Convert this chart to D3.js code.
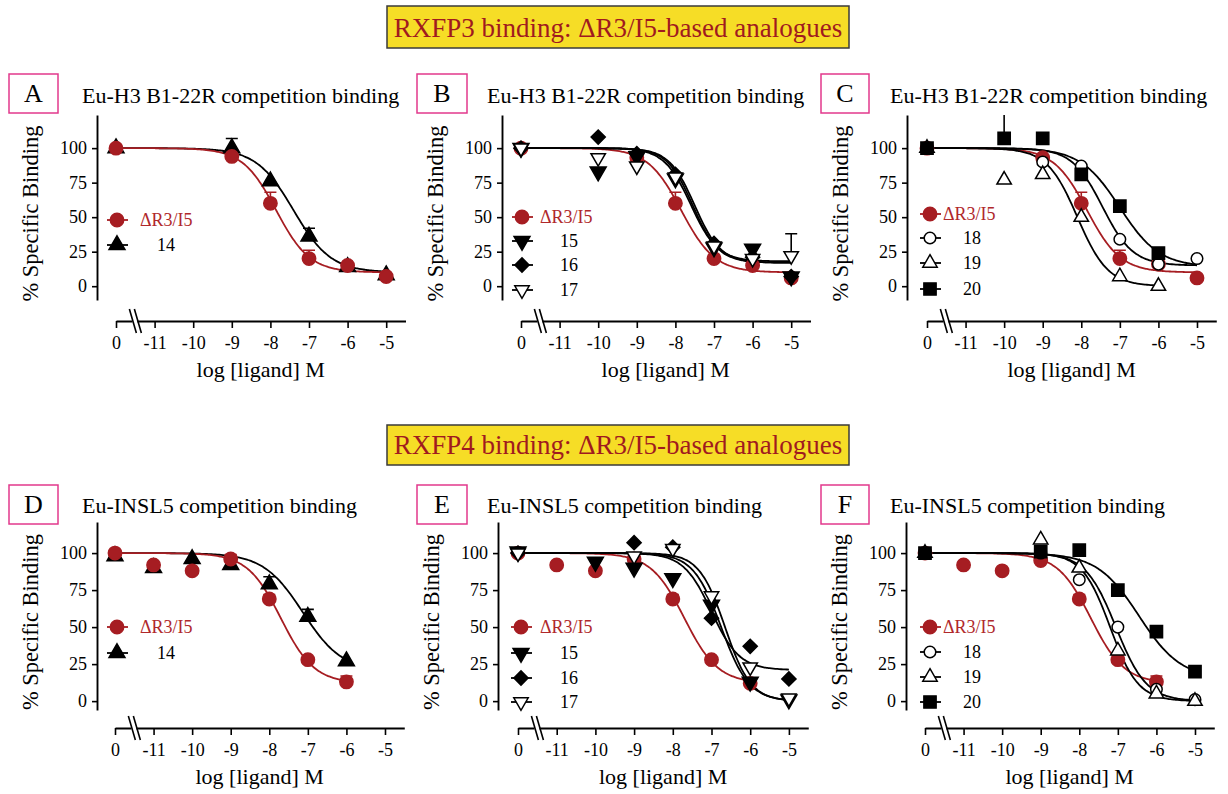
<!DOCTYPE html>
<html>
<head>
<meta charset="utf-8">
<script src="https://cdn.jsdelivr.net/npm/d3@7"></script>
<style>
  body { margin: 0; background: #fff; }
  svg text { font-family: "Liberation Serif", "Times New Roman", serif; }
</style>
</head>
<body>
<svg id="fig" width="1228" height="794"></svg>
<script>
// x values are log10 [ligand]; the "0" (no ligand) point sits at -12, left of the axis break
const xTickValues = [-12, -11, -10, -9, -8, -7, -6, -5];
const xTickLabels = ["0", "-11", "-10", "-9", "-8", "-7", "-6", "-5"];
const yTickValues = [0, 25, 50, 75, 100];

const headerTexts = ["RXFP3 binding: \u0394R3/I5-based analogues", "RXFP4 binding: \u0394R3/I5-based analogues"];
const panelLetters = ["A", "B", "C", "D", "E", "F"];
const panelTitles = [
  "Eu-H3 B1-22R competition binding", "Eu-H3 B1-22R competition binding", "Eu-H3 B1-22R competition binding",
  "Eu-INSL5 competition binding", "Eu-INSL5 competition binding", "Eu-INSL5 competition binding"
];

// points: [log M, % specific binding, +SEM]
// RXFP3 (top row)
const r3A_dR3I5 = [[-12, 100, 0], [-9, 94, 0], [-8, 60, 8], [-7, 20, 6], [-6, 15, 0], [-5, 7, 0]];
const r3A_14    = [[-12, 100, 0], [-9, 100, 7], [-8, 76, 0], [-7, 36, 6], [-6, 14, 3], [-5, 8, 0]];
const r3B_dR3I5 = [[-12, 100, 0], [-9, 93, 0], [-8, 60, 8], [-7, 20, 0], [-6, 15, 0], [-5, 6, 0]];
const r3B_15    = [[-12, 100, 0], [-10, 83, 0], [-9, 94, 0], [-8, 78, 0], [-7, 28, 0], [-6, 27, 0], [-5, 7, 0]];
const r3B_16    = [[-12, 100, 0], [-10, 108, 0], [-9, 96, 0], [-8, 81, 0], [-7, 31, 0], [-6, 21, 0], [-5, 7, 0]];
const r3B_17    = [[-12, 100, 0], [-10, 93, 0], [-9, 87, 0], [-8, 79, 0], [-7, 29, 0], [-6, 20, 0], [-5, 22, 16]];
const r3C_dR3I5 = [[-12, 100, 0], [-9, 93, 0], [-8, 60, 8], [-7, 20, 6], [-6, 16, 0], [-5, 6, 0]];
const r3C_18    = [[-12, 100, 0], [-9, 90, 0], [-8, 87, 0], [-7, 34, 0], [-6, 16, 0], [-5, 20, 0]];
const r3C_19    = [[-12, 100, 0], [-10, 77, 0], [-9, 81, 0], [-8, 50, 0], [-7, 7, 0], [-6, 0, 0]];
const r3C_20    = [[-12, 100, 0], [-10, 107, 20], [-9, 107, 0], [-8, 81, 0], [-7, 58, 0], [-6, 24, 0]];
// RXFP4 (bottom row)
const r4D_dR3I5 = [[-12, 100, 0], [-11, 92, 0], [-10, 88, 0], [-9, 96, 3], [-8, 69, 3], [-7, 28, 0], [-6, 13, 4]];
const r4D_14    = [[-12, 98, 0], [-11, 90, 0], [-10, 96, 0], [-9, 92, 4], [-8, 79, 5], [-7, 57, 5], [-6, 27, 0]];
const r4E_dR3I5 = [[-12, 100, 0], [-11, 92, 0], [-10, 88, 0], [-9, 96, 3], [-8, 69, 3], [-7, 28, 0], [-6, 12, 0]];
const r4E_15    = [[-12, 101, 0], [-10, 94, 0], [-9, 90, 0], [-8, 83, 0], [-7, 65, 0], [-6, 13, 0], [-5, 1, 0]];
const r4E_16    = [[-12, 100, 0], [-9, 107, 0], [-8, 104, 0], [-7, 56, 0], [-6, 37, 0], [-5, 15, 0]];
const r4E_17    = [[-12, 100, 0], [-9, 98, 0], [-8, 103, 0], [-7, 71, 0], [-6, 23, 0], [-5, 2, 0]];
const r4F_dR3I5 = [[-12, 100, 0], [-11, 92, 0], [-10, 88, 0], [-9, 95, 0], [-8, 69, 3], [-7, 28, 0], [-6, 13, 4]];
const r4F_18    = [[-12, 100, 0], [-9, 100, 0], [-8, 82, 0], [-7, 50, 0], [-6, 8, 0], [-5, 1, 0]];
const r4F_19    = [[-12, 100, 0], [-9, 109, 0], [-8, 90, 0], [-7, 34, 0], [-6, 5, 0], [-5, 0, 0]];
const r4F_20    = [[-12, 100, 0], [-9, 101, 0], [-8, 102, 0], [-7, 75, 0], [-6, 47, 3], [-5, 20, 0]];

// fitted one-site curves: [bottom, logIC50, hill slope, last log M drawn] (top = 100)
const fitA_dR3I5 = [10, -7.85, 1.0, -5];
const fitA_14    = [10, -7.4, 0.9, -5];
const fitB_dR3I5 = [10, -7.85, 1.0, -5];
const fitB_15    = [17, -7.55, 1.3, -5];
const fitB_16    = [17, -7.5, 1.3, -5];
const fitB_17    = [18, -7.6, 1.25, -5];
const fitC_dR3I5 = [10, -7.85, 1.0, -5];
const fitC_18    = [15, -7.45, 1.1, -5];
const fitC_19    = [0, -8.1, 1.1, -6];
const fitC_20    = [14, -7.0, 0.85, -5];
const fitD_dR3I5 = [12, -7.7, 1.0, -6];
const fitD_14    = [20, -7.13, 0.85, -6];
const fitE_dR3I5 = [12, -7.7, 1.0, -6];
const fitE_15    = [0, -6.75, 1.2, -5];
const fitE_16    = [21, -7.0, 1.2, -5];
const fitE_17    = [0, -6.65, 1.3, -5];
const fitF_dR3I5 = [12, -7.7, 1.0, -6];
const fitF_18    = [0, -7.05, 1.1, -5];
const fitF_19    = [0, -7.2, 1.2, -5];
const fitF_20    = [15, -6.45, 0.8, -5];

const red = "#a61d22";

const seriesStyle = {
  "\u0394R3/I5": { sym: "circle", fill: red, stroke: red, size: 140 },
  "14": { sym: "triUp", fill: "#000", stroke: "#000", size: 110 },
  "15": { sym: "triDown", fill: "#000", stroke: "#000", size: 110 },
  "16": { sym: "diamond", fill: "#000", stroke: "#000", size: 100 },
  "17": { sym: "triDown", fill: "#fff", stroke: "#000", size: 90 },
  "18": { sym: "circle", fill: "#fff", stroke: "#000", size: 105 },
  "19": { sym: "triUp", fill: "#fff", stroke: "#000", size: 90 },
  "20": { sym: "square", fill: "#000", stroke: "#000", size: 150 }
};

// layout per panel (pixel positions)
const panels = [
  { row: 0, x0: 116, ux: 38.6, yAxisX: 97, boxX: 9, boxW: 49, titleX: 82, legX: 117, labX: 140, numX: 157, legY: [220, 245],
    series: [["\u0394R3/I5", r3A_dR3I5, fitA_dR3I5], ["14", r3A_14, fitA_14]], redOnTop: true },
  { row: 0, x0: 521, ux: 38.6, yAxisX: 502, boxX: 417, boxW: 50, titleX: 487, legX: 522, labX: 540, numX: 560, legY: [217, 241, 265, 290],
    series: [["\u0394R3/I5", r3B_dR3I5, fitB_dR3I5], ["15", r3B_15, fitB_15], ["16", r3B_16, fitB_16], ["17", r3B_17, fitB_17]] },
  { row: 0, x0: 927, ux: 38.57, yAxisX: 907, boxX: 821, boxW: 48, titleX: 890, legX: 930, labX: 943, numX: 963, legY: [214, 238, 263, 289],
    series: [["\u0394R3/I5", r3C_dR3I5, fitC_dR3I5], ["18", r3C_18, fitC_18], ["19", r3C_19, fitC_19], ["20", r3C_20, fitC_20]] },
  { row: 1, x0: 115, ux: 38.57, yAxisX: 97, boxX: 9, boxW: 49, titleX: 82, legX: 117, labX: 140, numX: 157, legY: [627, 653],
    series: [["\u0394R3/I5", r4D_dR3I5, fitD_dR3I5], ["14", r4D_14, fitD_14]], redOnTop: true },
  { row: 1, x0: 518, ux: 38.7, yAxisX: 498, boxX: 417, boxW: 50, titleX: 487, legX: 521, labX: 540, numX: 560, legY: [627, 653, 678, 702],
    series: [["\u0394R3/I5", r4E_dR3I5, fitE_dR3I5], ["15", r4E_15, fitE_15], ["16", r4E_16, fitE_16], ["17", r4E_17, fitE_17]] },
  { row: 1, x0: 925, ux: 38.57, yAxisX: 906, boxX: 821, boxW: 48, titleX: 890, legX: 930, labX: 943, numX: 963, legY: [627, 652, 677, 702],
    series: [["\u0394R3/I5", r4F_dR3I5, fitF_dR3I5], ["18", r4F_18, fitF_18], ["19", r4F_19, fitF_19], ["20", r4F_20, fitF_20]] }
];

// row geometry: y-axis extent, value domain, x-axis position, title/box positions
const rows = [
  { yDomain: [-10, 124], yRange: [300, 115], xAxisY: 321, boxY: 74, titleY: 103, headerY: 6, headerH: 42, headerBase: 37 },
  { yDomain: [-6, 121], yRange: [710, 522], xAxisY: 728, boxY: 485, titleY: 513, headerY: 425, headerH: 40, headerBase: 454 }
];

const svg = d3.select("#fig");

// header boxes
rows.forEach((r, i) => {
  svg.append("rect")
    .attr("x", 387).attr("y", r.headerY)
    .attr("width", 462).attr("height", r.headerH)
    .attr("fill", "#f6dd26").attr("stroke", "#3a3a3a").attr("stroke-width", 1.5);
  svg.append("text")
    .attr("x", 618).attr("y", r.headerBase)
    .attr("text-anchor", "middle")
    .attr("font-size", 27).attr("fill", "#a01a1f")
    .text(headerTexts[i]);
});

function symbolPath(style) {
  if (style.sym === "circle") return d3.symbol(d3.symbolCircle, style.size)();
  if (style.sym === "square") return d3.symbol(d3.symbolSquare, style.size)();
  if (style.sym === "diamond") return d3.symbol(d3.symbolSquare, style.size)();
  return d3.symbol(d3.symbolTriangle, style.size)();
}
function symbolRotate(style) {
  if (style.sym === "triDown") return 180;
  if (style.sym === "diamond") return 45;
  return 0;
}

function fitValue(fit, x) {
  const [bottom, logIC50, hill] = fit;
  return bottom + (100 - bottom) / (1 + Math.pow(10, hill * (x - logIC50)));
}

panels.forEach((p, pi) => {
  const r = rows[p.row];
  const g = svg.append("g");

  const x = d3.scaleLinear().domain([-12, -4.5]).range([p.x0, p.x0 + 7.5 * p.ux]);
  const y = d3.scaleLinear().domain(r.yDomain).range(r.yRange);

  // letter box + title
  g.append("rect")
    .attr("x", p.boxX).attr("y", r.boxY)
    .attr("width", p.boxW).attr("height", 39)
    .attr("fill", "none").attr("stroke", "#e2388c").attr("stroke-width", 1.5);
  g.append("text")
    .attr("x", p.boxX + p.boxW / 2).attr("y", r.boxY + 28)
    .attr("text-anchor", "middle").attr("font-size", 26)
    .text(panelLetters[pi]);
  g.append("text")
    .attr("x", p.titleX).attr("y", r.titleY)
    .attr("font-size", 22)
    .text(panelTitles[pi]);

  // y axis
  const yAxis = d3.axisLeft(y).tickValues(yTickValues).tickSize(5).tickSizeOuter(0).tickPadding(5);
  const ya = g.append("g").attr("transform", `translate(${p.yAxisX},0)`).call(yAxis);
  ya.select(".domain").attr("stroke-width", 1.9);
  ya.selectAll(".tick line").attr("stroke-width", 1.6);
  ya.selectAll(".tick text").attr("font-size", 18).attr("fill", "#000");

  // x axis
  const xAxis = d3.axisBottom(x).tickValues(xTickValues)
    .tickFormat((d, i) => xTickLabels[i]).tickSize(7).tickSizeOuter(0).tickPadding(8);
  const xa = g.append("g").attr("transform", `translate(0,${r.xAxisY})`).call(xAxis);
  xa.select(".domain").attr("stroke-width", 1.9);
  xa.selectAll(".tick line").attr("stroke-width", 1.6);
  xa.selectAll(".tick text").attr("font-size", 18).attr("fill", "#000");

  // axis break between 0 and -11
  const bx = x(-11.55);
  g.append("rect").attr("x", bx - 1).attr("y", r.xAxisY - 2).attr("width", 5).attr("height", 4).attr("fill", "#fff");
  [0, 5].forEach(off => {
    g.append("line")
      .attr("x1", bx - 4 + off).attr("y1", r.xAxisY - 12)
      .attr("x2", bx + 3 + off).attr("y2", r.xAxisY + 12)
      .attr("stroke", "#000").attr("stroke-width", 1.6);
  });

  // axis titles
  g.append("text")
    .attr("x", (x(-12) + x(-4.5)) / 2).attr("y", r.xAxisY + 56)
    .attr("text-anchor", "middle").attr("font-size", 22)
    .text("log [ligand] M");
  const yMid = (r.yRange[0] + r.yRange[1]) / 2 + 6;
  g.append("text")
    .attr("transform", `translate(${p.yAxisX - 59},${yMid}) rotate(-90)`)
    .attr("text-anchor", "middle").attr("font-size", 22.5)
    .text("% Specific Binding");

  // plot clip so long error bars stop at the axis top
  const clipId = "clip" + pi;
  svg.append("clipPath").attr("id", clipId).append("rect")
    .attr("x", p.yAxisX).attr("y", r.yRange[1])
    .attr("width", x(-4.5) - p.yAxisX).attr("height", r.yRange[0] - r.yRange[1]);
  const plot = g.append("g").attr("clip-path", `url(#${clipId})`);

  let order = p.series.slice();
  if (p.redOnTop) order = order.slice(1).concat([order[0]]);

  const line = d3.line().x(d => x(d[0])).y(d => y(d[1])).curve(d3.curveMonotoneX);

  order.forEach(([name, pts, fit]) => {
    const st = seriesStyle[name];
    const col = name === "\u0394R3/I5" ? red : "#000";
    const curvePts = d3.range(-12, fit[3] + 0.001, 0.05).map(v => [v, fitValue(fit, v)]);
    plot.append("path")
      .attr("d", line(curvePts))
      .attr("fill", "none").attr("stroke", col).attr("stroke-width", 1.8);

    // error bars (upper only)
    pts.filter(d => d[2] > 0).forEach(d => {
      plot.append("line")
        .attr("x1", x(d[0])).attr("x2", x(d[0]))
        .attr("y1", y(d[1])).attr("y2", y(d[1] + d[2]))
        .attr("stroke", col).attr("stroke-width", 1.6);
      plot.append("line")
        .attr("x1", x(d[0]) - 6).attr("x2", x(d[0]) + 6)
        .attr("y1", y(d[1] + d[2])).attr("y2", y(d[1] + d[2]))
        .attr("stroke", col).attr("stroke-width", 1.6);
    });

    g.selectAll(null).data(pts).enter().append("path")
      .attr("d", symbolPath(st))
      .attr("transform", d => `translate(${x(d[0])},${y(d[1])}) rotate(${symbolRotate(st)})`)
      .attr("fill", st.fill).attr("stroke", st.stroke).attr("stroke-width", 1.5);
  });

  // legend
  p.series.forEach(([name], i) => {
    const st = seriesStyle[name];
    const ly = p.legY[i];
    const col = name === "\u0394R3/I5" ? red : "#000";
    g.append("line")
      .attr("x1", p.legX - 10).attr("x2", p.legX + 11)
      .attr("y1", ly).attr("y2", ly)
      .attr("stroke", col).attr("stroke-width", 1.8);
    g.append("path")
      .attr("d", symbolPath(st))
      .attr("transform", `translate(${p.legX},${ly}) rotate(${symbolRotate(st)})`)
      .attr("fill", st.fill).attr("stroke", st.stroke).attr("stroke-width", 1.5);
    g.append("text")
      .attr("x", name === "\u0394R3/I5" ? p.labX : p.numX).attr("y", ly)
      .attr("dy", "0.35em").attr("font-size", 18)
      .attr("fill", name === "\u0394R3/I5" ? "#b0282b" : "#000")
      .text(name);
  });
});
</script>
</body>
</html>
